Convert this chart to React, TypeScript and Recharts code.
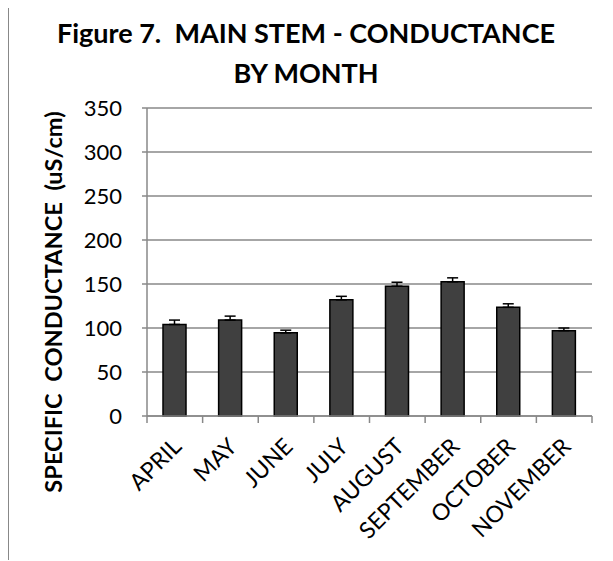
import { BarChart, Bar, XAxis, YAxis, CartesianGrid, ErrorBar } from "recharts";

const months = ["APRIL", "MAY", "JUNE", "JULY", "AUGUST", "SEPTEMBER", "OCTOBER", "NOVEMBER"];
const conductance = [104, 109, 94.5, 132, 147.5, 152.5, 123.5, 97];
const plusError = [5, 4.5, 3, 4, 4.5, 4.5, 4, 3];
const yTicks = [0, 50, 100, 150, 200, 250, 300, 350];

const data = months.map((m, i) => ({
  month: m,
  value: conductance[i],
  err: [0, plusError[i]],
}));

const FONT = "Lato, 'Open Sans', sans-serif";
const GRID = "#888888";

const CHART_W = 604;
const CHART_H = 553;
const MARGIN = { top: 101, right: 21, bottom: 36, left: 78 };
const Y_AXIS_W = 60;
const PLOT_W = CHART_W - MARGIN.left - MARGIN.right - Y_AXIS_W;

// rotated month label + tick marks on the category boundaries (Excel style)
const MonthTick = ({ x, y, payload, index }: any) => {
  const band = PLOT_W / months.length;
  const ax = x + 8;
  const ay = y + 32;
  return (
    <g>
      <line x1={x - band / 2} x2={x - band / 2} y1={y} y2={y + 7} stroke={GRID} strokeWidth={1.5} />
      {index === months.length - 1 && (
        <line x1={x + band / 2} x2={x + band / 2} y1={y} y2={y + 7} stroke={GRID} strokeWidth={1.5} />
      )}
      <text x={ax} y={ay} transform={`rotate(-45, ${ax}, ${ay})`} textAnchor="end"
        fontSize={23} fontFamily={FONT} fill="#000">
        {payload.value}
      </text>
    </g>
  );
};

export default function App() {
  return (
    <div style={{
      position: "relative", marginTop: -2, width: CHART_W, height: CHART_H,
      borderLeft: `1px solid ${GRID}`, borderTop: `1px solid ${GRID}`, background: "#fff",
    }}>
      <div style={{
        position: "absolute", left: 0, top: 6, width: 594, textAlign: "center",
        fontFamily: FONT, fontWeight: 700, fontSize: 27, lineHeight: "40px", color: "#000",
      }}>
        Figure 7.&nbsp; MAIN STEM - CONDUCTANCE<br />BY MONTH
      </div>

      <div style={{
        position: "absolute", left: 44, top: 295, width: 0, height: 0,
      }}>
        <div style={{
          position: "absolute", left: 0, top: 0, transform: "translate(-50%, -50%) rotate(-90deg)",
          whiteSpace: "pre", fontFamily: FONT, fontWeight: 700, fontSize: 23.6, color: "#000",
        }}>
          {"SPECIFIC  CONDUCTANCE  (uS/cm)"}
        </div>
      </div>

      <BarChart width={CHART_W} height={CHART_H} data={data} margin={MARGIN}>
        <CartesianGrid vertical={false} stroke={GRID} strokeWidth={1.5} />
        <XAxis dataKey="month" stroke={GRID} strokeWidth={1.5} tickLine={false} tickSize={0}
          tickMargin={0} height={108} interval={0} tick={<MonthTick />} />
        <YAxis domain={[0, 350]} ticks={yTicks} width={Y_AXIS_W} stroke={GRID} strokeWidth={1.5}
          tickSize={5} tickMargin={20} tickLine={{ stroke: GRID }}
          tick={{ fill: "#000", fontSize: 22, fontFamily: FONT }} />
        <Bar dataKey="value" fill="#404040" stroke="#000" strokeWidth={1.5}
          barSize={23} isAnimationActive={false}>
          <ErrorBar dataKey="err" width={5.5} stroke="#000" strokeWidth={1.5} direction="y" />
        </Bar>
      </BarChart>
    </div>
  );
}
